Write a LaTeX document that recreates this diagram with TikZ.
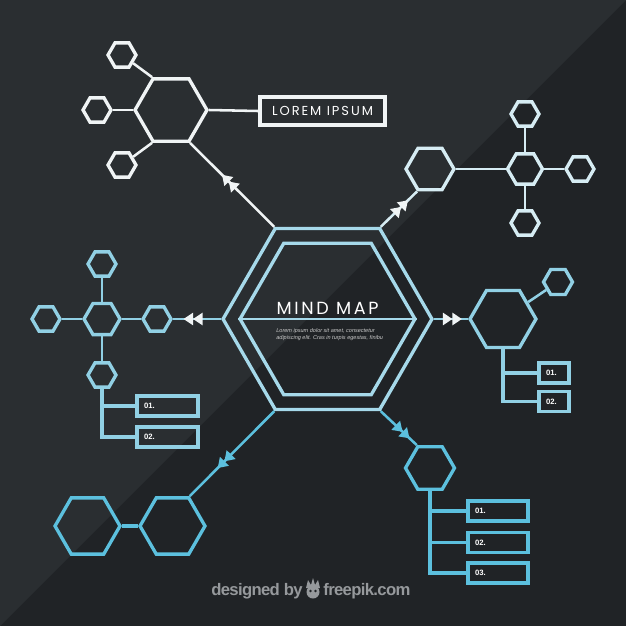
\documentclass[tikz,border=0pt]{standalone}
\usepackage{fontspec}
\setmainfont{Liberation Sans}
\newfontfamily\mapfont[LetterSpace=15]{Poppins}
\newfontfamily\footfont[LetterSpace=-4]{Liberation Sans}
\usetikzlibrary{arrows.meta,shapes.geometric,decorations.markings}
\definecolor{bgtop}{RGB}{42,46,49}
\definecolor{bgbot}{RGB}{32,35,38}
\definecolor{cwht}{RGB}{240,244,245}
\definecolor{cpale}{RGB}{214,236,243}
\definecolor{cmid}{RGB}{166,217,234}
\definecolor{cside}{RGB}{145,208,228}
\definecolor{cdeep}{RGB}{92,192,222}
\definecolor{cfoot}{RGB}{150,153,156}
\tikzset{
  hexa/.style={regular polygon, regular polygon sides=6, inner sep=0pt,
               minimum size={#1*0.04cm}, line width=1.9pt},
  lnk/.style={line width=1.45pt},
  tree/.style={line width=1.8pt},
  lbl/.style={draw, line width=1.8pt, text width=#1, inner xsep=0.14cm, inner ysep=0pt,
              minimum height=0.4cm, align=left, text=white,
              font=\fontsize{4.4}{5}\selectfont\bfseries},
  tbox/.style={draw, line width=1.9pt, minimum width=2.5cm, minimum height=0.56cm,
               text=white, font=\mapfont\fontsize{7.4}{8}\selectfont},
  ttl/.style={text=white, font=\mapfont\fontsize{10}{11}\selectfont},
  txt/.style={text=gray!40!white, align=left, inner sep=0pt,
              font=\fontsize{3.15}{4}\selectfont\itshape},
  foot/.style={text=cfoot, inner sep=0pt, font=\footfont\fontsize{9.5}{11}\selectfont\bfseries},
  dbl/.style 2 args={postaction={decorate, decoration={markings,
      mark=at position #1 with {\arrow[#2]{Triangle[length=1.9mm,width=2.4mm] Triangle[length=1.9mm,width=2.4mm]}}}}},
}

\begin{document}
\begin{tikzpicture}[x=0.02cm, y=-0.02cm]
  % background
  \fill[bgbot] (0,0) rectangle (626,626);
  \fill[bgtop] (0,0) -- (626,0) -- (0,626) -- cycle;
  \useasboundingbox (0,0) rectangle (626,626);

  % centre
  \node[hexa=104.5, draw=cmid] (mapout) at (327.5,319) {};
  \node[hexa=87.5, draw=cmid] (mapin) at (327.5,319) {};
  \draw[cmid, line width=1.6pt] (mapin.west) -- (mapin.east);
  \node[ttl] (mapttl) at (327.5,308) {MIND MAP};
  \node[txt, anchor=north west] (maptxt) at (276,328.5)
    {Lorem ipsum dolor sit amet, consectetur\\adipiscing elit. Cras in turpis egestas, finibu};

  % top left
  \node[hexa=36, draw=cwht] (tlhex) at (171,110) {};
  \node[hexa=14, draw=cwht] (tls1) at (122,55) {};
  \node[hexa=14, draw=cwht] (tls2) at (97,110) {};
  \node[hexa=14, draw=cwht] (tls3) at (122,165) {};
  \node[tbox, draw=cwht] (tlbox) at (322.5,111) {LOREM IPSUM};
  \draw[lnk, cwht] (tlhex.120) -- (tls1);
  \draw[lnk, cwht] (tlhex.west) -- (tls2);
  \draw[lnk, cwht] (tlhex.240) -- (tls3);
  \draw[lnk, cwht] (tlhex.east) -- (tlbox.west);
  \draw[lnk, cwht, dbl={0.62}{cwht}] (mapout.120) -- (tlhex.300);

  % top right
  \node[hexa=24, draw=cpale] (trhex) at (430,169) {};
  \node[hexa=17.5, draw=cpale] (trmid) at (525,169) {};
  \node[hexa=14, draw=cpale] (trs1) at (525,114) {};
  \node[hexa=14, draw=cpale] (trs2) at (580,169) {};
  \node[hexa=14, draw=cpale] (trs3) at (525,223) {};
  \draw[lnk, cpale] (trhex.east) -- (trmid.west);
  \draw[lnk, cpale] (trmid) -- (trs1);
  \draw[lnk, cpale] (trmid) -- (trs2);
  \draw[lnk, cpale] (trmid) -- (trs3);
  \draw[lnk, cpale, dbl={0.75}{cwht}] (mapout.60) -- (trhex.240);

  % left
  \node[hexa=18, draw=cside] (lchex) at (102,319) {};
  \node[hexa=14, draw=cside] (lcs1) at (102,264) {};
  \node[hexa=14, draw=cside] (lcs2) at (46,319) {};
  \node[hexa=14, draw=cside] (lcs3) at (157,319) {};
  \node[hexa=14, draw=cside] (lcs4) at (102,375) {};
  \draw[lnk, cside] (lchex) -- (lcs1);
  \draw[lnk, cside] (lchex) -- (lcs2);
  \draw[lnk, cside] (lchex) -- (lcs3);
  \draw[lnk, cside] (lchex) -- (lcs4);
  \draw[lnk, cside, dbl={0.78}{cwht}] (mapout.west) -- (lcs3);
  \node[lbl=0.94cm, draw=cside] (lb1) at (167.5,406) {01.};
  \node[lbl=0.94cm, draw=cside] (lb2) at (167.5,437) {02.};
  \draw[tree, cside] (lcs4.south) |- (lb2.west);
  \draw[tree, cside] (lcs4.south |- lb1.west) -- (lb1.west);

  % right
  \node[hexa=33, draw=cside] (rchex) at (503,319) {};
  \node[hexa=14.5, draw=cside] (rcs) at (558,282) {};
  \draw[lnk, cside] (rchex) -- (rcs);
  \draw[lnk, cside, dbl={0.82}{cwht}] (mapout.east) -- (rchex.west);
  \node[lbl=0.32cm, draw=cside] (rb1) at (554,373) {01.};
  \node[lbl=0.32cm, draw=cside] (rb2) at (554,401.5) {02.};
  \draw[tree, cside] (rchex.south) |- (rb2.west);
  \draw[tree, cside] (rchex.south |- rb1.west) -- (rb1.west);

  % bottom right
  \node[hexa=24.5, draw=cdeep] (brhex) at (430,468) {};
  \draw[lnk, cdeep, dbl={0.8}{cdeep}] (mapout.300) -- (brhex.120);
  \node[lbl=0.92cm, draw=cdeep] (bb1) at (498,511) {01.};
  \node[lbl=0.92cm, draw=cdeep] (bb2) at (498,542.5) {02.};
  \node[lbl=0.92cm, draw=cdeep] (bb3) at (498,573) {03.};
  \draw[tree, cdeep] (brhex.south) |- (bb3.west);
  \draw[tree, cdeep] (brhex.south |- bb1.west) -- (bb1.west);
  \draw[tree, cdeep] (brhex.south |- bb2.west) -- (bb2.west);

  % bottom left
  \node[hexa=32.5, draw=cdeep] (blhex1) at (87.5,526) {};
  \node[hexa=32.5, draw=cdeep] (blhex2) at (172.5,526) {};
  \draw[cdeep, line width=2.2pt] (blhex1.east) -- (blhex2.west);
  \draw[lnk, cdeep, dbl={0.67}{cdeep}] (mapout.240) -- (blhex2.60);

  % footer
  \node[foot, anchor=east] (dsgn) at (303,591) {designed by};
  \node[foot, anchor=west] (fpk) at (323,591) {freepik.com};
  \fill[cfoot] (313,592) circle (6.5);
  \fill[cfoot] (306,588) -- (308,580) -- (311,585) -- (313,578) -- (315,585) -- (318,580) -- (320,588) -- cycle;
  \fill[bgbot] (310.5,591) circle (1.4) (315.5,591) circle (1.4);
\end{tikzpicture}
\end{document}
